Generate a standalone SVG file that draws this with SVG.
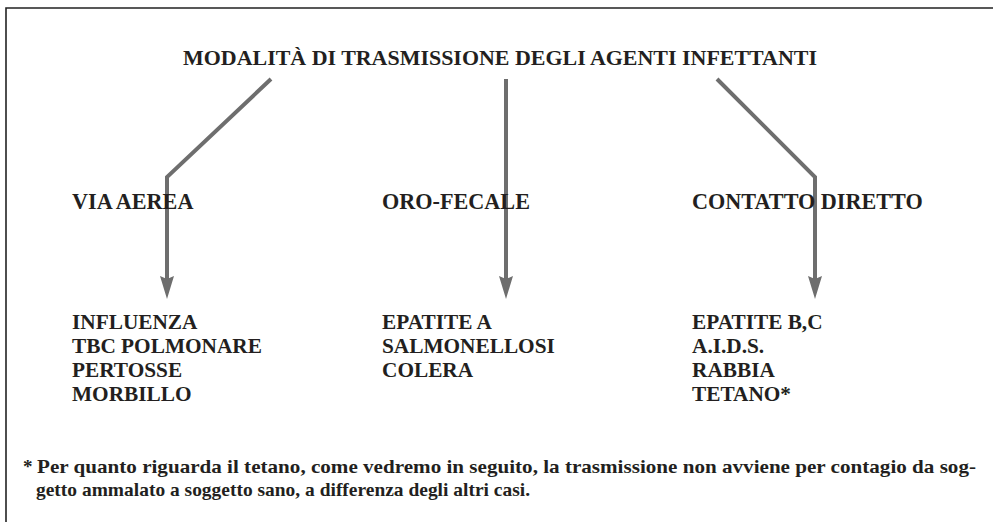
<svg xmlns="http://www.w3.org/2000/svg" width="993" height="522" viewBox="0 0 993 522">
<style>
  text { font-family: "Liberation Serif", "DejaVu Serif", serif; fill: #231f20; font-weight: bold; }
  .title { font-size: 21.5px; }
  .label { font-size: 22.2px; }
  .item { font-size: 21.3px; }
  .note { font-size: 19px; }
  .conn { fill: none; stroke: #6e6e6e; stroke-width: 4; stroke-linejoin: miter; }
  .head { fill: #6e6e6e; }
  .frame { fill: none; stroke: #222222; stroke-width: 1.6; }
</style>
<rect width="993" height="522" fill="#ffffff"/>
<path class="frame" d="M6,522 L6,8 L993,8"/>

<g id="title">
  <text class="title" x="183" y="65" textLength="634" lengthAdjust="spacingAndGlyphs">MODALITÀ DI TRASMISSIONE DEGLI AGENTI INFETTANTI</text>
</g>

<g id="connectors">
  <path class="conn" d="M271,79 L167,177 L167,282"/>
  <path class="head" d="M160,276 L167,279 L174,276 L167,299 Z"/>
  <path class="conn" d="M506,79 L506,282"/>
  <path class="head" d="M499,276 L506,279 L513,276 L506,299 Z"/>
  <path class="conn" d="M717,79 L815,177 L815,282"/>
  <path class="head" d="M808,276 L815,279 L822,276 L815,299 Z"/>
</g>

<g id="via-aerea">
  <text class="label" x="72" y="209">VIA AEREA</text>
</g>
<g id="oro-fecale">
  <text class="label" x="382" y="209">ORO-FECALE</text>
</g>
<g id="contatto-diretto">
  <text class="label" x="692" y="209">CONTATTO DIRETTO</text>
</g>

<g id="list-via-aerea">
  <text class="item" x="72" y="329">INFLUENZA</text>
  <text class="item" x="72" y="353">TBC POLMONARE</text>
  <text class="item" x="72" y="377">PERTOSSE</text>
  <text class="item" x="72" y="401">MORBILLO</text>
</g>
<g id="list-oro-fecale">
  <text class="item" x="382" y="329">EPATITE A</text>
  <text class="item" x="382" y="353">SALMONELLOSI</text>
  <text class="item" x="382" y="377">COLERA</text>
</g>
<g id="list-contatto-diretto">
  <text class="item" x="692" y="329">EPATITE B,C</text>
  <text class="item" x="692" y="353">A.I.D.S.</text>
  <text class="item" x="692" y="377">RABBIA</text>
  <text class="item" x="692" y="401">TETANO*</text>
</g>

<g id="footnote">
  <text class="note" x="23" y="473">*</text>
  <text class="note" x="37" y="473" textLength="939" lengthAdjust="spacingAndGlyphs">Per quanto riguarda il tetano, come vedremo in seguito, la trasmissione non avviene per contagio da sog-</text>
  <text class="note" x="36" y="496" textLength="494" lengthAdjust="spacingAndGlyphs">getto ammalato a soggetto sano, a differenza degli altri casi.</text>
</g>
</svg>
